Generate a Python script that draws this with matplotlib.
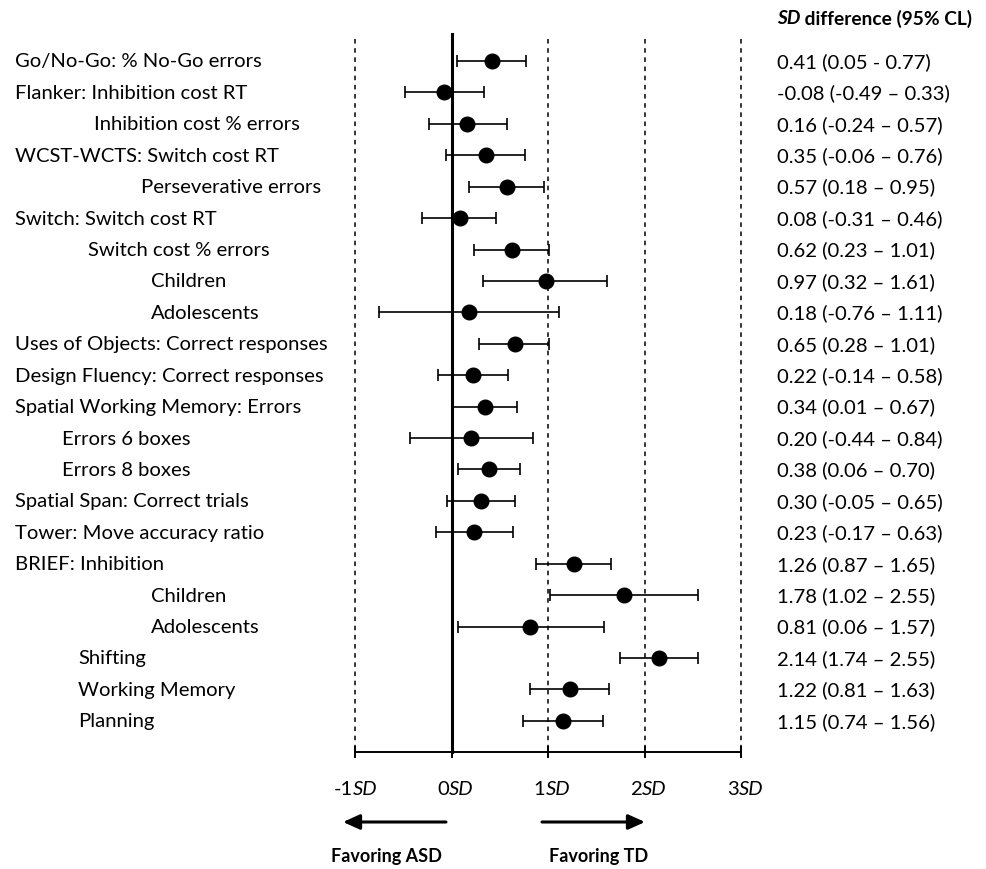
import matplotlib
matplotlib.use("Agg")
import matplotlib.pyplot as plt

plt.rcParams['font.family'] = ['Lato', 'DejaVu Sans']
plt.rcParams['mathtext.fontset'] = 'custom'
plt.rcParams['mathtext.it'] = 'Lato:italic'

labels = [
    "Go/No-Go: % No-Go errors", "Flanker: Inhibition cost RT", "Inhibition cost % errors",
    "WCST-WCTS: Switch cost RT", "Perseverative errors", "Switch: Switch cost RT",
    "Switch cost % errors", "Children", "Adolescents",
    "Uses of Objects: Correct responses", "Design Fluency: Correct responses",
    "Spatial Working Memory: Errors", "Errors 6 boxes", "Errors 8 boxes",
    "Spatial Span: Correct trials", "Tower: Move accuracy ratio", "BRIEF: Inhibition",
    "Children", "Adolescents", "Shifting", "Working Memory", "Planning",
]
effect = [0.41, -0.08, 0.16, 0.35, 0.57, 0.08, 0.62, 0.97, 0.18, 0.65, 0.22,
          0.34, 0.20, 0.38, 0.30, 0.23, 1.26, 1.78, 0.81, 2.14, 1.22, 1.15]
ci_low = [0.05, -0.49, -0.24, -0.06, 0.18, -0.31, 0.23, 0.32, -0.76, 0.28, -0.14,
          0.01, -0.44, 0.06, -0.05, -0.17, 0.87, 1.02, 0.06, 1.74, 0.81, 0.74]
ci_high = [0.77, 0.33, 0.57, 0.76, 0.95, 0.46, 1.01, 1.61, 1.11, 1.01, 0.58,
           0.67, 0.84, 0.70, 0.65, 0.63, 1.65, 2.55, 1.57, 2.55, 1.63, 1.56]
ticks = [-1, 0, 1, 2, 3]

# left offsets of the row labels (pixels)
indent = [15, 15, 94, 15, 141, 15, 88, 151, 151, 15, 15, 15, 62, 62, 15, 15, 15,
          151, 151, 78, 78, 78]

W, H = 986, 870
x0, sd_px = 452, 96.5      # pixel of 0SD, pixels per SD
y0, row_px = 62, 31.42     # pixel of first row, pixels per row
fs = 14.6

fig = plt.figure(figsize=(W / 100, H / 100), dpi=100)
ax = fig.add_axes([0, 0, 1, 1])
ax.set_xlim(-x0 / sd_px, (W - x0) / sd_px)
ax.set_ylim((H - y0) / row_px, -y0 / row_px)
ax.axis('off')

def py(p):
    return (p - y0) / row_px

def px(p):
    return (p - x0) / sd_px

# reference lines
for t in ticks:
    if t == 0:
        ax.plot([t, t], [py(35), py(753)], color='black', lw=2.2, zorder=2)
    else:
        ax.plot([t, t], [py(40), py(753)], color='black', lw=1.1,
                ls=(0, (3, 3)), zorder=1)
ax.plot([ticks[0], ticks[-1]], [py(753), py(753)], color='black', lw=1.4)
for t in ticks:
    ax.plot([t, t], [py(748), py(758)], color='black', lw=1.4)
    lab = ax.text(t - 0.03, py(790), "%d" % t, ha='right', va='center', fontsize=fs)
    ax.annotate("SD", xy=(1, 0), xycoords=lab, va='bottom', ha='left',
                fontsize=fs, style='italic')

rows = list(range(len(labels)))
err = [[e - l for e, l in zip(effect, ci_low)], [h - e for e, h in zip(effect, ci_high)]]
ax.errorbar(effect, rows, xerr=err, fmt='o', color='black', ms=10.5,
            elinewidth=1.2, capsize=4, capthick=1.2, zorder=3)

for i, (lab, e, l, h) in enumerate(zip(labels, effect, ci_low, ci_high)):
    ax.text(indent[i] / W, i, lab, transform=ax.get_yaxis_transform(),
            ha='left', va='center', fontsize=fs)
    sep = '-' if i == 0 else '\u2013'
    ax.text(777 / W, i, "%.2f (%.2f %s %.2f)" % (e, l, sep, h),
            transform=ax.get_yaxis_transform(), ha='left', va='center', fontsize=fs)

# header
hd = ax.text(777 / W, py(19), "SD", ha='left', va='center', fontsize=13.8,
             style='italic', weight='bold', transform=ax.get_yaxis_transform())
ax.annotate(" difference (95% CL)", xy=(1, 0), xycoords=hd, va='bottom',
            ha='left', fontsize=13.8, weight='bold')

# direction arrows
ax.annotate("", xy=(px(343), py(823)), xytext=(px(446), py(823)),
            arrowprops=dict(arrowstyle='-|>,head_length=1.0,head_width=0.45',
                            color='black', lw=2.2, shrinkA=0, shrinkB=0))
ax.annotate("", xy=(px(645), py(823)), xytext=(px(542), py(823)),
            arrowprops=dict(arrowstyle='-|>,head_length=1.0,head_width=0.45',
                            color='black', lw=2.2, shrinkA=0, shrinkB=0))
ax.text(px(386), py(857), "Favoring ASD", ha='center', va='center',
        fontsize=13, weight='bold')
ax.text(px(599), py(857), "Favoring TD", ha='center', va='center',
        fontsize=13, weight='bold')

fig.savefig("out.png", dpi=100)
